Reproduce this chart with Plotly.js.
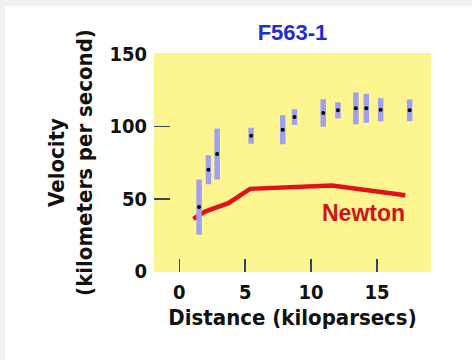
<!DOCTYPE html>
<html>
<head>
<meta charset="utf-8">
<script src="https://cdn.plot.ly/plotly-3.0.1.min.js"></script>
<style>
  html, body { margin: 0; padding: 0; background: #f1f1f1; width: 472px; height: 360px; overflow: hidden; }
  #chart { position: absolute; left: 5px; top: 6px; width: 467px; height: 354px; background: #ffffff; }
</style>
</head>
<body>
<div id="chart"></div>
<script>
// Observed rotation curve of F563-1
var distance = [1.50, 2.21, 2.87, 5.45, 7.85, 8.74, 10.92, 12.04, 13.40, 14.19, 15.28, 17.48];
var velocity = [44.3, 70.1, 80.9, 93.6, 97.7, 106.5, 109.3, 111.1, 112.5, 112.5, 111.5, 111.1];
var velocityErr = [19, 10, 17.6, 5.5, 10, 5.4, 9.5, 5.6, 11, 10, 8, 7.5];

// Newtonian prediction
var newtonDistance = [1.07, 1.95, 3.72, 5.37, 11.58, 13.48, 17.15];
var newtonVelocity = [36.2, 41.2, 47.0, 56.9, 59.2, 56.9, 52.5];

var xTicks = [0, 5, 10, 15];
var yTickLabels = [0, 50, 100, 150];
var yTickMarks = [50, 100];

var labelFont = { family: "DejaVu Sans Condensed, DejaVu Sans, sans-serif", weight: "bold", color: "#111111" };

var traces = [
  {
    x: newtonDistance, y: newtonVelocity, type: "scatter", mode: "lines",
    line: { color: "#e0101c", width: 4.5 }, hoverinfo: "skip", showlegend: false
  },
  {
    x: distance, y: velocity, type: "scatter", mode: "markers",
    marker: { color: "#000000", size: 4 },
    error_y: { type: "data", array: velocityErr, visible: true, color: "#a0a0f0", thickness: 5.5, width: 0 },
    showlegend: false
  },
  {
    x: [null], y: [null], yaxis: "y2", type: "scatter", showlegend: false, hoverinfo: "skip"
  }
];

var layout = {
  width: 467, height: 354,
  margin: { l: 149, r: 41, t: 47, b: 88 },
  paper_bgcolor: "#ffffff",
  plot_bgcolor: "#fdf58f",
  title: {
    text: "F563-1",
    font: { family: "Liberation Sans, Arial, sans-serif", size: 22, weight: "bold", color: "#1f2bd6" },
    x: 0.5, xref: "paper", y: 0.925, yref: "container", yanchor: "middle"
  },
  xaxis: {
    range: [-1.92, 19.1],
    tickvals: xTicks, ticktext: xTicks.map(String),
    ticks: "inside", ticklen: 13, tickwidth: 1.5, tickcolor: "#334466",
    showgrid: false, zeroline: false, showline: false,
    tickfont: Object.assign({ size: 20 }, labelFont),
    ticklabelstandoff: 6,
    title: { text: "Distance (kiloparsecs)", font: Object.assign({ size: 22 }, labelFont), standoff: 6 }
  },
  yaxis: {
    range: [-0.5, 150.7],
    tickvals: yTickLabels, ticktext: yTickLabels.map(String),
    ticks: "", showgrid: false, zeroline: false, showline: false,
    tickfont: Object.assign({ size: 20 }, labelFont),
    ticklabelstandoff: 6,
    title: { text: "Velocity<br>(kilometers per second)", font: Object.assign({ size: 22 }, labelFont), standoff: 10 }
  },
  yaxis2: {
    overlaying: "y", side: "left", range: [-0.5, 150.7],
    tickvals: yTickMarks, showticklabels: false,
    ticks: "inside", ticklen: 16, tickwidth: 1.5, tickcolor: "#334466",
    showgrid: false, zeroline: false, showline: false
  },
  annotations: [
    {
      x: 13.95, y: 40.5, xref: "x", yref: "y", text: "Newton", showarrow: false,
      font: { family: "Liberation Sans, Arial, sans-serif", size: 23, weight: "bold", color: "#d4101c" }
    }
  ]
};

Plotly.newPlot("chart", traces, layout, { displayModeBar: false, staticPlot: true });
</script>
</body>
</html>
